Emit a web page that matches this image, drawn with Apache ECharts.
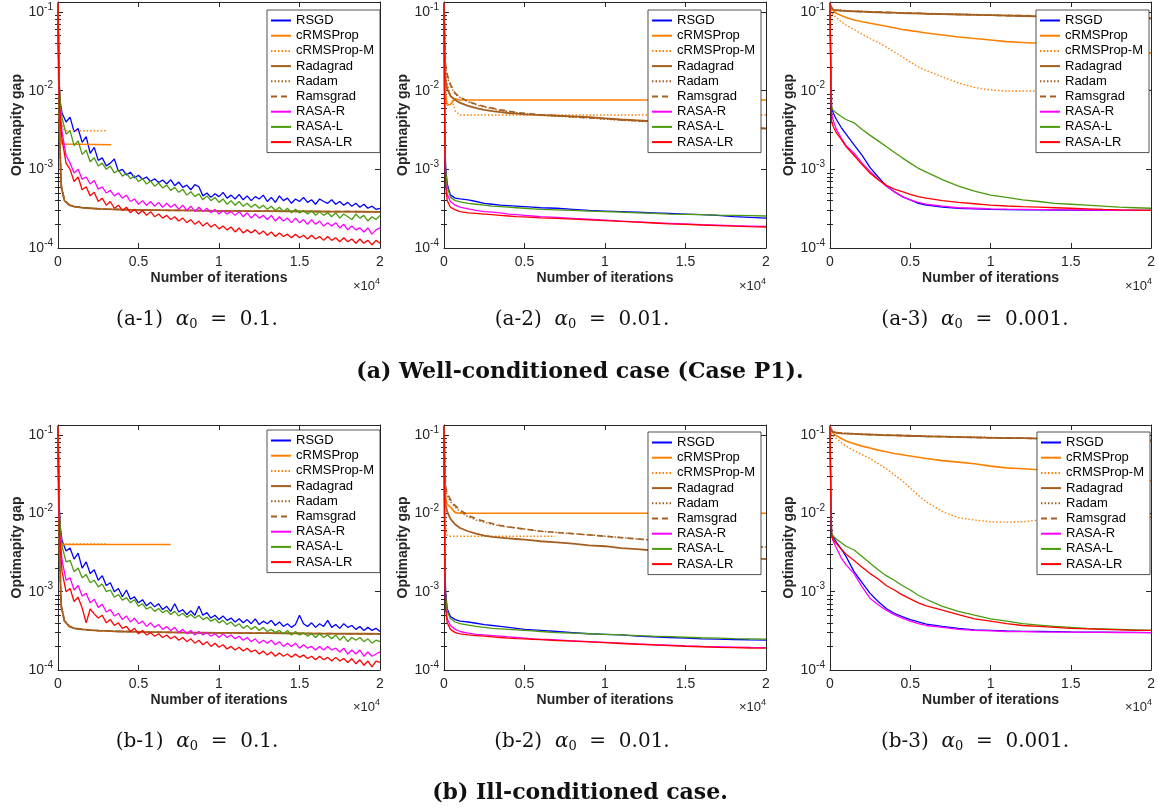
<!DOCTYPE html>
<html><head><meta charset="utf-8">
<script src="https://cdn.jsdelivr.net/npm/echarts@6/dist/echarts.min.js"></script>
<style>html,body{margin:0;padding:0;background:#fff}#c{width:1158px;height:808px}</style>
</head><body><div id="c"></div>
<script>
// ---------------- DATA ----------------
const seriesNames = ['RSGD','cRMSProp','cRMSProp-M','Radagrad','Radam','Ramsgrad','RASA-R','RASA-L','RASA-LR'];
const xTickValues = [0, 5000, 10000, 15000, 20000];
const xTickLabels = ['0', '0.5', '1', '1.5', '2'];
const yTickValues = [1e-4, 1e-3, 1e-2, 1e-1];
const yTickExponents = ['-4', '-3', '-2', '-1'];
const yMinorTicks = [2e-4,3e-4,4e-4,5e-4,6e-4,7e-4,8e-4,9e-4,2e-3,3e-3,4e-3,5e-3,6e-3,7e-3,8e-3,9e-3,2e-2,3e-2,4e-2,5e-2,6e-2,7e-2,8e-2,9e-2];
const subCaptions = [['(a-1) ','0.1.'],['(a-2) ','0.01.'],['(a-3) ','0.001.'],['(b-1) ','0.1.'],['(b-2) ','0.01.'],['(b-3) ','0.001.']];
const mainCaptions = ['(a) Well-conditioned case (Case P1).', '(b) Ill-conditioned case.'];

const xNoisy = [0,40,80,150,250,500,750,1000,1250,1500,1750,2000,2250,2500,2750,3000,3250,3500,3750,4000,4250,4500,4750,5000,5250,5500,5750,6000,6250,6500,6750,7000,7250,7500,7750,8000,8250,8500,8750,9000,9250,9500,9750,10000,10250,10500,10750,11000,11250,11500,11750,12000,12250,12500,12750,13000,13250,13500,13750,14000,14250,14500,14750,15000,15250,15500,15750,16000,16250,16500,16750,17000,17250,17500,17750,18000,18250,18500,18750,19000,19250,19500,19750,20000];
const xSmooth = [0,50,100,200,400,700,1000,1500,2000,2500,3000,3500,4000,4500,5000,5500,6000,7000,8000,9000,10000,11000,12000,13000,14000,15000,16000,17000,18000,19000,20000];

// (a-1)
const a1_RSGD = [0.13,0.03,0.012,0.007,
 52e-4,40e-4,46e-4,30e-4,33e-4,22e-4,26e-4,16e-4,19e-4,13e-4,
 14e-4,11e-4,12e-4,13.5e-4,9.5e-4,10e-4,8.5e-4,9.2e-4,7.8e-4,8.4e-4,
 7.5e-4,8.0e-4,7.0e-4,7.6e-4,6.8e-4,7.3e-4,6.5e-4,7.4e-4,6.2e-4,6.9e-4,
 5.9e-4,6.3e-4,5.5e-4,6.4e-4,6.0e-4,4.6e-4,5.0e-4,4.4e-4,4.9e-4,4.5e-4,
 5.1e-4,4.3e-4,4.7e-4,4.2e-4,4.8e-4,4.1e-4,4.6e-4,4.0e-4,4.5e-4,4.2e-4,
 4.7e-4,3.9e-4,4.4e-4,3.8e-4,4.6e-4,4.0e-4,4.3e-4,3.7e-4,4.2e-4,3.9e-4,
 4.4e-4,3.8e-4,4.1e-4,3.6e-4,4.2e-4,3.9e-4,3.7e-4,4.1e-4,3.6e-4,3.9e-4,
 3.5e-4,3.8e-4,3.4e-4,3.7e-4,3.3e-4,3.6e-4,3.2e-4,3.4e-4,3.1e-4,3.2e-4];
const a1_cRMS_x = [0,50,100,150,250,3300];
const a1_cRMS = [0.13,0.02,0.006,2.5e-3,2.1e-3,2.05e-3];
const a1_cRMSM_x = [0,50,100,200,400,3000];
const a1_cRMSM = [0.13,0.03,0.01,4e-3,3.1e-3,3.1e-3];
const a1_Radagrad = [0.13,0.012,2.5e-3,6e-4,4.0e-4,3.5e-4,3.35e-4,3.25e-4,3.2e-4,3.15e-4,3.12e-4,3.1e-4,3.08e-4,3.06e-4,3.05e-4,3.04e-4,3.03e-4,3.01e-4,3.0e-4,2.98e-4,2.97e-4,2.96e-4,2.95e-4,2.94e-4,2.93e-4,2.92e-4,2.91e-4,2.9e-4,2.9e-4,2.89e-4,2.88e-4];
const a1_Radam = [0.13,0.015,3e-3,6.5e-4,4.1e-4,3.55e-4,3.38e-4,3.27e-4,3.21e-4,3.16e-4,3.13e-4,3.1e-4,3.08e-4,3.07e-4,3.05e-4,3.04e-4,3.03e-4,3.01e-4,3.0e-4,2.98e-4,2.97e-4,2.96e-4,2.95e-4,2.94e-4,2.93e-4,2.92e-4,2.91e-4,2.9e-4,2.9e-4,2.89e-4,2.88e-4];
const a1_Ramsgrad = [0.13,0.014,2.8e-3,6.3e-4,4.05e-4,3.52e-4,3.36e-4,3.26e-4,3.2e-4,3.15e-4,3.12e-4,3.1e-4,3.08e-4,3.06e-4,3.05e-4,3.04e-4,3.03e-4,3.01e-4,3.0e-4,2.98e-4,2.97e-4,2.96e-4,2.95e-4,2.94e-4,2.93e-4,2.92e-4,2.91e-4,2.9e-4,2.9e-4,2.89e-4,2.88e-4];
const a1_RASAR = [0.13,0.025,0.01,0.005,
 30e-4,15e-4,12e-4,9e-4,10e-4,7.5e-4,8e-4,6.5e-4,7.2e-4,5.6e-4,
 6.0e-4,5.0e-4,5.4e-4,4.6e-4,5.0e-4,4.3e-4,4.7e-4,3.9e-4,4.2e-4,3.6e-4,
 4.0e-4,3.5e-4,3.9e-4,3.4e-4,3.8e-4,3.3e-4,3.7e-4,3.3e-4,3.6e-4,3.1e-4,
 3.5e-4,3.0e-4,3.4e-4,2.9e-4,3.3e-4,2.9e-4,3.2e-4,2.8e-4,3.1e-4,2.7e-4,
 3.0e-4,2.7e-4,2.9e-4,2.6e-4,2.9e-4,2.5e-4,2.8e-4,2.4e-4,2.7e-4,2.4e-4,
 2.6e-4,2.3e-4,2.6e-4,2.2e-4,2.5e-4,2.2e-4,2.4e-4,2.1e-4,2.4e-4,2.1e-4,
 2.3e-4,2.0e-4,2.3e-4,2.0e-4,2.2e-4,1.9e-4,2.1e-4,1.9e-4,2.1e-4,1.8e-4,
 2.0e-4,1.7e-4,1.9e-4,1.7e-4,1.8e-4,1.6e-4,1.8e-4,1.5e-4,1.7e-4,1.8e-4];
const a1_RASAL = [0.13,0.03,0.012,0.0065,
 45e-4,28e-4,31e-4,20e-4,23e-4,15.5e-4,17.5e-4,12.5e-4,14e-4,11e-4,
 12e-4,10e-4,11e-4,9e-4,9.8e-4,8.2e-4,8.9e-4,7.6e-4,8.3e-4,7.0e-4,
 7.6e-4,6.5e-4,7.1e-4,6.1e-4,6.7e-4,5.8e-4,6.3e-4,5.4e-4,5.9e-4,5.1e-4,
 5.6e-4,4.7e-4,5.2e-4,4.5e-4,4.9e-4,4.1e-4,4.6e-4,4.0e-4,4.4e-4,3.8e-4,
 4.2e-4,3.6e-4,4.0e-4,3.5e-4,3.9e-4,3.4e-4,3.7e-4,3.3e-4,3.6e-4,3.2e-4,
 3.5e-4,3.1e-4,3.4e-4,3.0e-4,3.3e-4,2.9e-4,3.2e-4,2.8e-4,3.1e-4,2.8e-4,
 3.0e-4,2.7e-4,3.0e-4,2.6e-4,2.9e-4,2.6e-4,2.8e-4,2.5e-4,2.8e-4,2.4e-4,
 2.7e-4,2.5e-4,2.3e-4,2.7e-4,2.4e-4,2.6e-4,2.2e-4,2.5e-4,2.3e-4,2.6e-4];
const a1_RASALR = [0.13,0.02,0.008,0.004,
 24e-4,12e-4,10e-4,7e-4,8e-4,5.5e-4,6e-4,4.6e-4,5.1e-4,3.9e-4,
 4.3e-4,3.5e-4,3.9e-4,3.2e-4,3.5e-4,3.0e-4,3.3e-4,2.8e-4,3.1e-4,2.7e-4,
 3.0e-4,2.6e-4,2.9e-4,2.5e-4,2.7e-4,2.4e-4,2.6e-4,2.3e-4,2.5e-4,2.2e-4,
 2.4e-4,2.1e-4,2.3e-4,2.0e-4,2.2e-4,1.9e-4,2.1e-4,1.85e-4,2.0e-4,1.75e-4,
 1.9e-4,1.7e-4,1.85e-4,1.6e-4,1.8e-4,1.55e-4,1.7e-4,1.55e-4,1.7e-4,1.5e-4,
 1.65e-4,1.45e-4,1.6e-4,1.4e-4,1.55e-4,1.4e-4,1.5e-4,1.35e-4,1.5e-4,1.35e-4,
 1.45e-4,1.3e-4,1.45e-4,1.3e-4,1.4e-4,1.25e-4,1.4e-4,1.25e-4,1.35e-4,1.2e-4,
 1.35e-4,1.2e-4,1.3e-4,1.15e-4,1.3e-4,1.15e-4,1.25e-4,1.1e-4,1.25e-4,1.15e-4];

// (a-2)
const a2_RSGD = [0.13,3e-3,1.1e-3,6.5e-4,4.7e-4,4.3e-4,4.2e-4,4.1e-4,3.9e-4,3.7e-4,3.6e-4,3.5e-4,3.45e-4,3.4e-4,3.35e-4,3.3e-4,3.25e-4,3.2e-4,3.1e-4,3.0e-4,2.95e-4,2.9e-4,2.85e-4,2.8e-4,2.75e-4,2.7e-4,2.65e-4,2.6e-4,2.5e-4,2.45e-4,2.4e-4];
const a2_cRMS_x = [0,50,100,200,400,700,1000,20000];
const a2_cRMS = [0.13,0.02,0.009,6.6e-3,6.7e-3,7.9e-3,7.6e-3,7.6e-3];
const a2_cRMSM_x = [0,50,100,200,400,700,1000,20000];
const a2_cRMSM = [0.13,0.03,0.016,0.012,9e-3,5.5e-3,4.9e-3,4.9e-3];
const a2_Radagrad = [0.13,0.03,0.014,0.0105,8.6e-3,7.6e-3,7.0e-3,6.4e-3,6.0e-3,5.7e-3,5.5e-3,5.35e-3,5.2e-3,5.1e-3,5.0e-3,4.95e-3,4.9e-3,4.8e-3,4.7e-3,4.6e-3,4.45e-3,4.3e-3,4.2e-3,4.1e-3,4.0e-3,3.9e-3,3.8e-3,3.7e-3,3.55e-3,3.4e-3,3.3e-3];
const a2_Radam = [0.13,0.04,0.02,0.015,0.0115,9.0e-3,8.2e-3,7.2e-3,6.6e-3,6.2e-3,5.9e-3,5.6e-3,5.4e-3,5.25e-3,5.1e-3,5.0e-3,4.9e-3,4.75e-3,4.6e-3,4.5e-3,4.35e-3,4.2e-3,4.1e-3,4.0e-3,3.9e-3,3.8e-3,3.7e-3,3.6e-3,3.5e-3,3.4e-3,3.3e-3];
const a2_Ramsgrad = [0.13,0.045,0.021,0.016,0.012,9.2e-3,8.3e-3,7.3e-3,6.7e-3,6.3e-3,6.0e-3,5.7e-3,5.5e-3,5.3e-3,5.15e-3,5.05e-3,4.95e-3,4.8e-3,4.65e-3,4.5e-3,4.4e-3,4.25e-3,4.15e-3,4.0e-3,3.9e-3,3.8e-3,3.7e-3,3.6e-3,3.5e-3,3.4e-3,3.3e-3];
const a2_RASAR = [0.13,2.5e-3,8e-4,4.8e-4,3.9e-4,3.5e-4,3.3e-4,3.15e-4,3.0e-4,2.9e-4,2.85e-4,2.8e-4,2.7e-4,2.65e-4,2.6e-4,2.55e-4,2.5e-4,2.45e-4,2.38e-4,2.32e-4,2.26e-4,2.2e-4,2.15e-4,2.1e-4,2.06e-4,2.02e-4,1.98e-4,1.95e-4,1.92e-4,1.9e-4,1.88e-4];
const a2_RASAL = [0.13,3e-3,1.0e-3,6.0e-4,4.4e-4,4.0e-4,3.85e-4,3.7e-4,3.6e-4,3.5e-4,3.4e-4,3.35e-4,3.3e-4,3.25e-4,3.2e-4,3.15e-4,3.1e-4,3.05e-4,3.0e-4,2.95e-4,2.9e-4,2.85e-4,2.8e-4,2.75e-4,2.7e-4,2.68e-4,2.65e-4,2.62e-4,2.6e-4,2.58e-4,2.55e-4];
const a2_RASALR = [0.13,2e-3,6e-4,4.0e-4,3.3e-4,3.05e-4,2.9e-4,2.8e-4,2.75e-4,2.7e-4,2.65e-4,2.6e-4,2.55e-4,2.5e-4,2.48e-4,2.45e-4,2.42e-4,2.38e-4,2.33e-4,2.28e-4,2.23e-4,2.18e-4,2.13e-4,2.08e-4,2.03e-4,2.0e-4,1.96e-4,1.93e-4,1.9e-4,1.87e-4,1.85e-4];

// (a-3)
const a3_RSGD = [0.13,0.02,6e-3,5.2e-3,4.3e-3,3.4e-3,2.8e-3,2.05e-3,1.5e-3,1.05e-3,8e-4,6.2e-4,5.2e-4,4.5e-4,4.1e-4,3.7e-4,3.5e-4,3.3e-4,3.2e-4,3.15e-4,3.1e-4,3.08e-4,3.06e-4,3.05e-4,3.04e-4,3.03e-4,3.02e-4,3.01e-4,3.0e-4,3.0e-4,3.0e-4];
const a3_cRMS = [0.13,0.115,0.11,0.104,0.096,0.09,0.085,0.079,0.075,0.072,0.069,0.066,0.063,0.06,0.058,0.056,0.054,0.051,0.048,0.046,0.044,0.042,0.041,0.04,0.038,0.037,0.036,0.034,0.033,0.031,0.030];
const a3_cRMSM = [0.13,0.11,0.1,0.092,0.085,0.075,0.068,0.06,0.052,0.046,0.041,0.036,0.031,0.027,0.023,0.02,0.018,0.015,0.0125,0.011,0.0102,0.0099,0.0099,0.0099,0.01,0.01,0.01,0.0101,0.0101,0.0102,0.0102];
const a3_Radagrad = [0.13,0.115,0.11,0.107,0.105,0.104,0.103,0.102,0.101,0.1,0.099,0.098,0.098,0.097,0.096,0.096,0.095,0.094,0.093,0.092,0.091,0.09,0.089,0.088,0.087,0.087,0.086,0.085,0.084,0.084,0.083];
const a3_Radam = [0.13,0.118,0.112,0.108,0.106,0.105,0.104,0.103,0.102,0.101,0.1,0.099,0.098,0.098,0.097,0.096,0.096,0.095,0.094,0.093,0.092,0.091,0.09,0.089,0.088,0.087,0.087,0.086,0.085,0.084,0.084];
const a3_Ramsgrad = [0.13,0.117,0.111,0.108,0.106,0.104,0.103,0.102,0.101,0.1,0.1,0.099,0.098,0.097,0.097,0.096,0.095,0.094,0.093,0.092,0.091,0.09,0.09,0.089,0.088,0.087,0.086,0.086,0.085,0.084,0.083];
const a3_RASAR = [0.13,0.015,5e-3,4.2e-3,3.2e-3,2.5e-3,2.0e-3,1.6e-3,1.2e-3,9.4e-4,7.5e-4,6.1e-4,5.2e-4,4.5e-4,4.1e-4,3.8e-4,3.6e-4,3.4e-4,3.25e-4,3.2e-4,3.15e-4,3.12e-4,3.1e-4,3.08e-4,3.06e-4,3.05e-4,3.04e-4,3.03e-4,3.02e-4,3.01e-4,3.0e-4];
const a3_RASAL = [0.13,0.02,6.3e-3,5.6e-3,5.2e-3,4.7e-3,4.3e-3,3.9e-3,3.2e-3,2.7e-3,2.3e-3,1.95e-3,1.65e-3,1.4e-3,1.2e-3,1.03e-3,9.2e-4,7.4e-4,6.1e-4,5.3e-4,4.7e-4,4.4e-4,4.1e-4,3.9e-4,3.7e-4,3.6e-4,3.5e-4,3.4e-4,3.3e-4,3.25e-4,3.2e-4];
const a3_RASALR = [0.13,0.012,4e-3,3.5e-3,2.9e-3,2.4e-3,1.95e-3,1.5e-3,1.15e-3,8.9e-4,7.4e-4,6.3e-4,5.6e-4,5.2e-4,4.8e-4,4.5e-4,4.3e-4,4.0e-4,3.8e-4,3.65e-4,3.5e-4,3.42e-4,3.35e-4,3.3e-4,3.25e-4,3.2e-4,3.15e-4,3.1e-4,3.06e-4,3.03e-4,3.0e-4];

// (b-1)
const b1_RSGD = [0.13,0.03,0.012,0.0065,
 45e-4,33e-4,36e-4,26e-4,31e-4,20e-4,24e-4,17e-4,19e-4,14e-4,
 16e-4,12e-4,13e-4,10e-4,11e-4,8.6e-4,10.5e-4,8.0e-4,8.6e-4,7.2e-4,
 7.9e-4,6.6e-4,7.3e-4,6.4e-4,7.0e-4,5.9e-4,6.5e-4,5.6e-4,7.0e-4,5.5e-4,
 5.9e-4,5.1e-4,5.7e-4,5.0e-4,6.5e-4,5.0e-4,5.4e-4,4.6e-4,5.0e-4,4.4e-4,
 4.9e-4,4.3e-4,4.6e-4,4.1e-4,4.5e-4,4.0e-4,4.4e-4,3.9e-4,4.5e-4,3.8e-4,
 4.2e-4,3.9e-4,4.3e-4,3.7e-4,4.1e-4,3.6e-4,3.9e-4,3.5e-4,3.8e-4,5.0e-4,
 3.9e-4,3.6e-4,4.0e-4,3.5e-4,3.9e-4,3.6e-4,4.3e-4,3.5e-4,3.8e-4,3.4e-4,
 3.9e-4,3.5e-4,3.7e-4,3.3e-4,3.6e-4,3.2e-4,3.5e-4,3.2e-4,3.4e-4,3.1e-4];
const b1_cRMS_x = [0,50,100,200,7000];
const b1_cRMS = [0.13,0.02,6e-3,4.0e-3,4.0e-3];
const b1_cRMSM_x = [0,50,100,200,3000];
const b1_cRMSM = [0.13,0.025,7e-3,4.05e-3,4.05e-3];
const b1_Radagrad = [0.13,0.012,2.8e-3,6.5e-4,4.2e-4,3.6e-4,3.4e-4,3.3e-4,3.22e-4,3.18e-4,3.15e-4,3.12e-4,3.1e-4,3.08e-4,3.06e-4,3.05e-4,3.04e-4,3.02e-4,3.0e-4,2.99e-4,2.98e-4,2.97e-4,2.96e-4,2.95e-4,2.94e-4,2.93e-4,2.92e-4,2.91e-4,2.9e-4,2.9e-4,2.89e-4];
const b1_Radam = [0.13,0.015,3.2e-3,6.8e-4,4.3e-4,3.65e-4,3.42e-4,3.31e-4,3.23e-4,3.19e-4,3.15e-4,3.12e-4,3.1e-4,3.08e-4,3.06e-4,3.05e-4,3.04e-4,3.02e-4,3.0e-4,2.99e-4,2.98e-4,2.97e-4,2.96e-4,2.95e-4,2.94e-4,2.93e-4,2.92e-4,2.91e-4,2.9e-4,2.9e-4,2.89e-4];
const b1_Ramsgrad = [0.13,0.014,3.0e-3,6.6e-4,4.25e-4,3.62e-4,3.41e-4,3.3e-4,3.22e-4,3.18e-4,3.15e-4,3.12e-4,3.1e-4,3.08e-4,3.06e-4,3.05e-4,3.04e-4,3.02e-4,3.0e-4,2.99e-4,2.98e-4,2.97e-4,2.96e-4,2.95e-4,2.94e-4,2.93e-4,2.92e-4,2.91e-4,2.9e-4,2.9e-4,2.89e-4];
const b1_RASAR = [0.13,0.025,0.009,0.0045,
 25e-4,14e-4,15e-4,10.5e-4,12e-4,8.8e-4,9.5e-4,7.2e-4,8.0e-4,6.3e-4,
 6.9e-4,5.5e-4,5.9e-4,4.9e-4,5.3e-4,4.4e-4,4.9e-4,4.1e-4,4.6e-4,3.9e-4,
 4.2e-4,3.6e-4,4.0e-4,3.5e-4,3.8e-4,3.3e-4,3.6e-4,3.2e-4,3.5e-4,3.0e-4,
 3.3e-4,2.9e-4,3.2e-4,2.8e-4,3.1e-4,2.8e-4,3.0e-4,2.7e-4,2.9e-4,2.6e-4,
 2.9e-4,2.6e-4,2.8e-4,2.5e-4,2.7e-4,2.4e-4,2.6e-4,2.3e-4,2.5e-4,2.2e-4,
 2.4e-4,2.2e-4,2.4e-4,2.1e-4,2.3e-4,2.0e-4,2.2e-4,2.0e-4,2.2e-4,1.9e-4,
 2.1e-4,1.9e-4,2.0e-4,1.8e-4,2.0e-4,1.8e-4,2.0e-4,1.8e-4,1.9e-4,1.7e-4,
 1.9e-4,1.6e-4,1.8e-4,1.6e-4,1.8e-4,1.5e-4,1.7e-4,1.5e-4,1.6e-4,1.7e-4];
const b1_RASAL = [0.13,0.03,0.011,0.006,
 38e-4,24e-4,25e-4,18e-4,20e-4,15e-4,16.5e-4,13e-4,14e-4,11.5e-4,
 12.5e-4,10e-4,10.5e-4,8.5e-4,9.2e-4,7.8e-4,8.4e-4,7.2e-4,7.9e-4,6.5e-4,
 7.0e-4,6.0e-4,6.4e-4,5.6e-4,6.1e-4,5.4e-4,5.8e-4,5.1e-4,5.6e-4,4.9e-4,
 5.3e-4,4.7e-4,5.1e-4,4.6e-4,5.0e-4,4.4e-4,4.7e-4,4.2e-4,4.5e-4,4.0e-4,
 4.3e-4,3.8e-4,4.1e-4,3.6e-4,3.9e-4,3.4e-4,3.7e-4,3.3e-4,3.6e-4,3.2e-4,
 3.5e-4,3.1e-4,3.3e-4,3.0e-4,3.2e-4,2.9e-4,3.2e-4,2.8e-4,3.1e-4,2.8e-4,
 3.0e-4,2.7e-4,2.9e-4,2.6e-4,2.9e-4,2.6e-4,2.8e-4,2.5e-4,2.8e-4,2.4e-4,
 2.7e-4,2.3e-4,2.6e-4,2.4e-4,2.6e-4,2.3e-4,2.5e-4,2.2e-4,2.4e-4,2.3e-4];
const b1_RASALR = [0.13,0.02,0.007,0.0035,
 18e-4,10e-4,11e-4,7.5e-4,8.5e-4,6.2e-4,4.0e-4,6.0e-4,5.2e-4,4.6e-4,
 5.0e-4,4.0e-4,4.4e-4,3.7e-4,4.0e-4,3.4e-4,3.6e-4,3.1e-4,3.4e-4,2.9e-4,
 3.2e-4,2.8e-4,3.0e-4,2.7e-4,2.9e-4,2.6e-4,2.8e-4,2.5e-4,2.7e-4,2.4e-4,
 2.6e-4,2.3e-4,2.5e-4,2.2e-4,2.4e-4,2.1e-4,2.3e-4,2.0e-4,2.2e-4,1.95e-4,
 2.1e-4,1.85e-4,2.0e-4,1.8e-4,1.95e-4,1.75e-4,1.9e-4,1.7e-4,1.8e-4,1.6e-4,
 1.75e-4,1.55e-4,1.7e-4,1.5e-4,1.65e-4,1.5e-4,1.6e-4,1.45e-4,1.6e-4,1.45e-4,
 1.55e-4,1.4e-4,1.5e-4,1.35e-4,1.5e-4,1.35e-4,1.45e-4,1.3e-4,1.45e-4,1.3e-4,
 1.4e-4,1.25e-4,1.4e-4,1.2e-4,1.35e-4,1.15e-4,1.3e-4,1.1e-4,1.3e-4,1.25e-4];

// (b-2)
const b2_RSGD = [0.13,3e-3,1.0e-3,6.0e-4,4.8e-4,4.4e-4,4.2e-4,4.1e-4,3.95e-4,3.8e-4,3.7e-4,3.6e-4,3.5e-4,3.4e-4,3.3e-4,3.25e-4,3.2e-4,3.1e-4,3.0e-4,2.9e-4,2.85e-4,2.8e-4,2.7e-4,2.65e-4,2.6e-4,2.55e-4,2.5e-4,2.48e-4,2.45e-4,2.42e-4,2.4e-4];
const b2_cRMS_x = [0,50,100,200,400,700,1000,20000];
const b2_cRMS = [0.13,0.03,0.016,0.013,0.012,0.0102,0.01,0.01];
const b2_cRMSM_x = [0,50,100,200,400,6900];
const b2_cRMSM = [0.13,0.015,7e-3,5.2e-3,5.1e-3,5.1e-3];
const b2_Radagrad = [0.13,0.025,0.013,0.0105,8.5e-3,7.2e-3,6.5e-3,5.9e-3,5.5e-3,5.2e-3,5.0e-3,4.9e-3,4.8e-3,4.7e-3,4.6e-3,4.5e-3,4.4e-3,4.25e-3,4.1e-3,3.9e-3,3.8e-3,3.6e-3,3.5e-3,3.35e-3,3.2e-3,3.1e-3,3.0e-3,2.9e-3,2.8e-3,2.7e-3,2.6e-3];
const b2_Radam = [0.13,0.04,0.02,0.017,0.014,0.012,0.0105,9.0e-3,8.2e-3,7.7e-3,7.2e-3,6.9e-3,6.7e-3,6.5e-3,6.3e-3,6.1e-3,5.9e-3,5.7e-3,5.5e-3,5.3e-3,5.1e-3,4.9e-3,4.7e-3,4.55e-3,4.4e-3,4.25e-3,4.1e-3,4.0e-3,3.9e-3,3.8e-3,3.7e-3];
const b2_Ramsgrad = [0.13,0.05,0.022,0.018,0.015,0.0125,0.011,9.4e-3,8.5e-3,7.9e-3,7.4e-3,7.0e-3,6.7e-3,6.5e-3,6.3e-3,6.1e-3,5.9e-3,5.7e-3,5.5e-3,5.3e-3,5.1e-3,4.9e-3,4.7e-3,4.55e-3,4.4e-3,4.25e-3,4.1e-3,4.0e-3,3.9e-3,3.8e-3,3.7e-3];
const b2_RASAR = [0.13,2.5e-3,7e-4,4.5e-4,3.7e-4,3.3e-4,3.1e-4,2.95e-4,2.85e-4,2.8e-4,2.75e-4,2.7e-4,2.65e-4,2.6e-4,2.55e-4,2.5e-4,2.47e-4,2.42e-4,2.36e-4,2.3e-4,2.25e-4,2.2e-4,2.15e-4,2.1e-4,2.07e-4,2.03e-4,2.0e-4,1.98e-4,1.96e-4,1.94e-4,1.93e-4];
const b2_RASAL = [0.13,3e-3,9e-4,5.6e-4,4.5e-4,4.1e-4,3.9e-4,3.75e-4,3.6e-4,3.5e-4,3.4e-4,3.35e-4,3.3e-4,3.25e-4,3.2e-4,3.15e-4,3.1e-4,3.0e-4,2.95e-4,2.9e-4,2.85e-4,2.8e-4,2.75e-4,2.7e-4,2.66e-4,2.62e-4,2.58e-4,2.55e-4,2.52e-4,2.5e-4,2.48e-4];
const b2_RASALR = [0.13,2e-3,6e-4,4.0e-4,3.3e-4,3.0e-4,2.9e-4,2.8e-4,2.75e-4,2.7e-4,2.65e-4,2.6e-4,2.55e-4,2.52e-4,2.5e-4,2.47e-4,2.44e-4,2.38e-4,2.33e-4,2.28e-4,2.23e-4,2.18e-4,2.13e-4,2.09e-4,2.05e-4,2.01e-4,1.98e-4,1.95e-4,1.93e-4,1.91e-4,1.9e-4];

// (b-3)
const b3_RSGD = [0.13,0.02,5.5e-3,5.0e-3,4.3e-3,3.5e-3,2.8e-3,1.8e-3,1.3e-3,9.5e-4,7.5e-4,6.1e-4,5.3e-4,4.8e-4,4.4e-4,4.1e-4,3.85e-4,3.6e-4,3.4e-4,3.25e-4,3.2e-4,3.15e-4,3.12e-4,3.1e-4,3.08e-4,3.06e-4,3.05e-4,3.04e-4,3.03e-4,3.02e-4,3.0e-4];
const b3_cRMS = [0.13,0.115,0.11,0.105,0.098,0.09,0.084,0.077,0.072,0.068,0.064,0.061,0.058,0.056,0.054,0.052,0.05,0.047,0.045,0.043,0.040,0.038,0.037,0.036,0.034,0.033,0.032,0.031,0.029,0.028,0.026];
const b3_cRMSM = [0.13,0.11,0.1,0.095,0.09,0.08,0.072,0.063,0.056,0.05,0.043,0.037,0.031,0.026,0.021,0.017,0.014,0.0105,0.0088,0.0082,0.0078,0.0077,0.0078,0.0082,0.0085,0.0086,0.0087,0.0088,0.0088,0.0089,0.0089];
const b3_Radagrad = [0.13,0.118,0.112,0.109,0.107,0.105,0.104,0.103,0.102,0.101,0.1,0.099,0.099,0.098,0.097,0.097,0.096,0.095,0.094,0.093,0.092,0.091,0.091,0.09,0.089,0.088,0.088,0.087,0.086,0.086,0.085];
const b3_Radam = [0.13,0.119,0.113,0.11,0.108,0.106,0.105,0.104,0.103,0.102,0.101,0.1,0.099,0.099,0.098,0.097,0.097,0.096,0.095,0.094,0.093,0.092,0.091,0.091,0.09,0.089,0.088,0.088,0.087,0.086,0.086];
const b3_Ramsgrad = [0.13,0.118,0.113,0.109,0.107,0.106,0.105,0.103,0.102,0.101,0.1,0.1,0.099,0.098,0.098,0.097,0.096,0.095,0.094,0.093,0.092,0.092,0.091,0.09,0.089,0.089,0.088,0.087,0.087,0.086,0.085];
const b3_RASAR = [0.13,0.015,5.2e-3,4.4e-3,3.6e-3,2.7e-3,2.2e-3,1.7e-3,1.15e-3,8.2e-4,6.8e-4,5.8e-4,5.1e-4,4.6e-4,4.2e-4,3.9e-4,3.7e-4,3.5e-4,3.3e-4,3.2e-4,3.15e-4,3.1e-4,3.08e-4,3.06e-4,3.05e-4,3.04e-4,3.03e-4,3.02e-4,3.01e-4,3.0e-4,3.0e-4];
const b3_RASAL = [0.13,0.02,5.5e-3,5.1e-3,4.7e-3,4.2e-3,3.8e-3,3.4e-3,2.8e-3,2.3e-3,1.9e-3,1.6e-3,1.4e-3,1.2e-3,1.05e-3,9.0e-4,8.0e-4,6.5e-4,5.6e-4,5.0e-4,4.5e-4,4.2e-4,3.9e-4,3.75e-4,3.6e-4,3.5e-4,3.4e-4,3.35e-4,3.3e-4,3.25e-4,3.2e-4];
const b3_RASALR = [0.13,0.015,5.2e-3,4.6e-3,4.1e-3,3.5e-3,3.0e-3,2.5e-3,2.05e-3,1.7e-3,1.45e-3,1.2e-3,1.05e-3,9.1e-4,8.1e-4,7.2e-4,6.6e-4,5.8e-4,5.1e-4,4.5e-4,4.2e-4,3.9e-4,3.7e-4,3.6e-4,3.5e-4,3.4e-4,3.35e-4,3.3e-4,3.25e-4,3.2e-4,3.2e-4];

// ------------- panel assembly (x array, y array) in seriesNames order -------------
const panelData = [
  [[xNoisy,a1_RSGD],[a1_cRMS_x,a1_cRMS],[a1_cRMSM_x,a1_cRMSM],[xSmooth,a1_Radagrad],[xSmooth,a1_Radam],[xSmooth,a1_Ramsgrad],[xNoisy,a1_RASAR],[xNoisy,a1_RASAL],[xNoisy,a1_RASALR]],
  [[xSmooth,a2_RSGD],[a2_cRMS_x,a2_cRMS],[a2_cRMSM_x,a2_cRMSM],[xSmooth,a2_Radagrad],[xSmooth,a2_Radam],[xSmooth,a2_Ramsgrad],[xSmooth,a2_RASAR],[xSmooth,a2_RASAL],[xSmooth,a2_RASALR]],
  [[xSmooth,a3_RSGD],[xSmooth,a3_cRMS],[xSmooth,a3_cRMSM],[xSmooth,a3_Radagrad],[xSmooth,a3_Radam],[xSmooth,a3_Ramsgrad],[xSmooth,a3_RASAR],[xSmooth,a3_RASAL],[xSmooth,a3_RASALR]],
  [[xNoisy,b1_RSGD],[b1_cRMS_x,b1_cRMS],[b1_cRMSM_x,b1_cRMSM],[xSmooth,b1_Radagrad],[xSmooth,b1_Radam],[xSmooth,b1_Ramsgrad],[xNoisy,b1_RASAR],[xNoisy,b1_RASAL],[xNoisy,b1_RASALR]],
  [[xSmooth,b2_RSGD],[b2_cRMS_x,b2_cRMS],[b2_cRMSM_x,b2_cRMSM],[xSmooth,b2_Radagrad],[xSmooth,b2_Radam],[xSmooth,b2_Ramsgrad],[xSmooth,b2_RASAR],[xSmooth,b2_RASAL],[xSmooth,b2_RASALR]],
  [[xSmooth,b3_RSGD],[xSmooth,b3_cRMS],[xSmooth,b3_cRMSM],[xSmooth,b3_Radagrad],[xSmooth,b3_Radam],[xSmooth,b3_Ramsgrad],[xSmooth,b3_RASAR],[xSmooth,b3_RASAL],[xSmooth,b3_RASALR]]
];

// ---------------- STYLE / LAYOUT ----------------
const ORANGE = '#FF8000', BROWN = '#A45F1F';
const lineStyles = [
  {color:'#0000FF', type:'solid', width:1.3},
  {color:ORANGE, type:'solid', width:1.6},
  {color:ORANGE, type:[1.5,2], width:1.4},
  {color:BROWN, type:'solid', width:1.8},
  {color:BROWN, type:[1.5,2], width:1.4},
  {color:BROWN, type:[6,4], width:1.6},
  {color:'#FF00FF', type:'solid', width:1.3},
  {color:'#4A9A0C', type:'solid', width:1.3},
  {color:'#FF0000', type:'solid', width:1.3}
];
const gridBoxes = [
  {left:58, top:2, width:322, height:246},
  {left:444, top:2, width:322, height:246},
  {left:830, top:2, width:322, height:246},
  {left:58, top:425, width:322, height:245},
  {left:444, top:425, width:322, height:245},
  {left:830, top:425, width:322, height:245}
];
const legendPos = [
  {right:778, top:10}, {right:397, top:10}, {right:9, top:10},
  {right:778, top:430}, {right:397, top:432}, {right:8, top:432}
];
const captionX = [197, 582, 975];
const AX = '#262626';
const SANS = 'Liberation Sans, Arial, Helvetica, sans-serif';
const SERIF = 'DejaVu Serif, Liberation Serif, serif';

function yFmt(v) {
  for (let i = 0; i < yTickValues.length; i++) {
    if (Math.abs(Math.log10(v) - Math.log10(yTickValues[i])) < 1e-6) return '10{s|' + yTickExponents[i] + '}';
  }
  return '';
}
function xFmt(v) {
  const i = xTickValues.indexOf(v);
  return i >= 0 ? xTickLabels[i] : '';
}

const grid = [], xAxis = [], yAxis = [], series = [], legend = [], graphic = [];
gridBoxes.forEach((g, p) => {
  grid.push(Object.assign({containLabel:false, show:false}, g));
  xAxis.push({type:'value', gridIndex:p, min:0, max:20000, interval:5000, position:'bottom',
    axisLine:{show:true, onZero:false, lineStyle:{color:AX, width:1}},
    axisTick:{show:true, inside:true, length:5, lineStyle:{color:AX}},
    axisLabel:{formatter:xFmt, margin:7, color:AX, fontSize:14, fontFamily:SANS},
    splitLine:{show:false},
    name:'Number of iterations', nameLocation:'middle', nameGap:23,
    nameTextStyle:{fontWeight:'bold', fontSize:14, color:AX, fontFamily:SANS}});
  xAxis.push({type:'value', gridIndex:p, min:0, max:20000, interval:5000, position:'top',
    axisLine:{show:true, onZero:false, lineStyle:{color:AX, width:1}},
    axisTick:{show:true, inside:true, length:5, lineStyle:{color:AX}},
    axisLabel:{show:false}, splitLine:{show:false}});
  const yBase = {type:'log', logBase:10, gridIndex:p, min:1e-4, max:0.134, splitLine:{show:false}};
  yAxis.push(Object.assign({}, yBase, {position:'left',
    axisLine:{show:true, onZero:false, lineStyle:{color:AX, width:1}},
    axisTick:{show:true, inside:true, length:5, lineStyle:{color:AX}},
    axisLabel:{formatter:yFmt, margin:5, color:AX, fontSize:14, fontFamily:SANS,
      rich:{s:{fontSize:10, fontFamily:SANS, color:AX, padding:[0,0,10,0]}}},
    name:'Optimapity gap', nameLocation:'middle', nameGap:34,
    nameTextStyle:{fontWeight:'bold', fontSize:14, color:AX, fontFamily:SANS}}));
  yAxis.push(Object.assign({}, yBase, {position:'right',
    axisLine:{show:true, onZero:false, lineStyle:{color:AX, width:1}},
    axisTick:{show:true, inside:true, length:5, lineStyle:{color:AX}},
    axisLabel:{show:false}}));
  yAxis.push(Object.assign({}, yBase, {position:'left',
    axisLine:{show:false}, axisLabel:{show:false},
    axisTick:{show:true, inside:true, length:3, customValues:yMinorTicks, lineStyle:{color:AX}}}));
  yAxis.push(Object.assign({}, yBase, {position:'right',
    axisLine:{show:false}, axisLabel:{show:false},
    axisTick:{show:true, inside:true, length:3, customValues:yMinorTicks, lineStyle:{color:AX}}}));

  panelData[p].forEach((d, k) => {
    const xs = d[0], ys = d[1];
    const n = Math.min(xs.length, ys.length);
    const pts = [];
    for (let i = 0; i < n; i++) pts.push([xs[i], ys[i]]);
    series.push({type:'line', name:seriesNames[k], xAxisIndex:p*2, yAxisIndex:p*4,
      data:pts, showSymbol:false, symbol:'none', animation:false, clip:true,
      lineStyle:lineStyles[k], itemStyle:{color:lineStyles[k].color}, z:2});
  });

  legend.push(Object.assign({orient:'vertical', data:seriesNames, itemWidth:20, itemHeight:10, itemGap:2.2,
    padding:[4,6,4,3], backgroundColor:'#fff', borderColor:AX, borderWidth:0.8, selectedMode:false,
    itemStyle:{color:'rgba(0,0,0,0)', borderColor:'rgba(0,0,0,0)', borderWidth:0, opacity:0},
    textStyle:{fontSize:13, fontFamily:SANS, color:'#000'}, z:10}, legendPos[p]));

  // x10^4 marker
  const row = p < 3 ? 0 : 1;
  graphic.push({type:'text', x:g.left + g.width, y: row === 0 ? 286 : 707, z:20,
    style:{text:'×10{s|4}', fontSize:13, fontFamily:SANS, fill:AX, align:'right', verticalAlign:'middle',
      rich:{s:{fontSize:9, fontFamily:SANS, fill:AX, padding:[0,0,9,0]}}}});
  // sub-caption
  const sc = subCaptions[p];
  graphic.push({type:'text', x:captionX[p % 3], y: row === 0 ? 320 : 742, z:20,
    style:{text: sc[0] + ' {a|α}{b|0}  =  ' + sc[1], fontSize:20, fontFamily:SERIF, fill:'#111',
      align:'center', verticalAlign:'middle',
      rich:{a:{fontSize:20, fontStyle:'italic', fontFamily:SERIF, fill:'#111'},
            b:{fontSize:13, fontFamily:SERIF, fill:'#111', padding:[10,0,0,0]}}}});
});
mainCaptions.forEach((t, r) => {
  graphic.push({type:'text', x:580, y: r === 0 ? 372 : 793, z:20,
    style:{text:t, fontSize:22, fontWeight:'bold', fontFamily:SERIF, fill:'#111', align:'center', verticalAlign:'middle'}});
});

const chart = echarts.init(document.getElementById('c'), null, {renderer:'canvas'});
chart.setOption({animation:false, backgroundColor:'#fff', grid, xAxis, yAxis, series, legend, graphic});
</script>
</body></html>
